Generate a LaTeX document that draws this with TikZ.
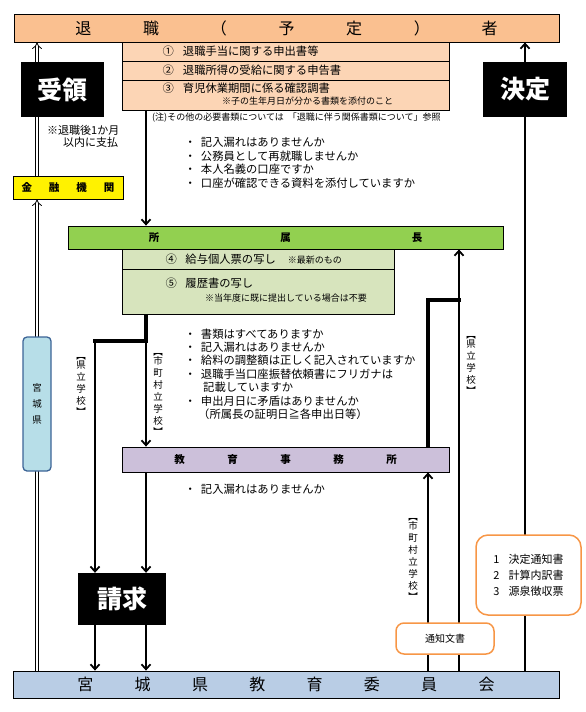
\documentclass[tikz,border=0pt]{standalone}
\usepackage{fontspec}
\setmainfont{Noto Sans CJK JP}
\usetikzlibrary{arrows.meta,backgrounds}
\definecolor{peach}{HTML}{FAC090}
\definecolor{peachlt}{HTML}{FCD5B5}
\definecolor{grass}{HTML}{92D050}
\definecolor{grasslt}{HTML}{D7E4BD}
\definecolor{lilac}{HTML}{CCC0DA}
\definecolor{skyblue}{HTML}{B9CDE5}
\definecolor{paleblue}{HTML}{B7DEE8}
\definecolor{navyline}{HTML}{3C6496}
\definecolor{orangeln}{HTML}{F79646}
\newcommand\fs[1]{\fontsize{#1}{#1}\selectfont}

\begin{document}
\begin{tikzpicture}[x=1pt, y=-1pt,
  box/.style={draw, line width=0.8pt, inner sep=0pt},
  blk/.style={fill=black, text=white, font=\fs{25}\bfseries, inner sep=0pt, minimum width=#1, minimum height=55pt},
  txt/.style={anchor=west, inner sep=0pt, font=\fs{11.3}},
  note/.style={anchor=west, inner sep=0pt, font=\fs{9}},
  list/.style={anchor=north west, inner sep=0pt, align=left, font=\fontsize{11.3}{13.4}\selectfont},
  vlab/.style={inner sep=0pt, align=center, font=\fontsize{9.5}{12}\selectfont},
  tag/.style={draw=orangeln, line width=1.5pt, fill=white, rounded corners=8pt, inner sep=0pt},
  arr/.style={line width=2pt, -{Straight Barb[length=5pt, width=9pt, line width=1.8pt]}},
  arrthin/.style={line width=1.5pt, -{Straight Barb[length=5pt, width=9pt, line width=1.8pt]}},
  heavy/.style={line width=3.3pt, line cap=rect, line join=miter},
  dbl/.style={double=white, double distance=2.6pt, line width=0.8pt, -{Implies}}]
\useasboundingbox (0,0) rectangle (586,712);

% boxes
\node[box, fill=peach, minimum width=545pt, minimum height=28pt, font=\fs{16}] (taishoku) at (286.5,28) {退\hspace{51.7pt}職\hspace{51.7pt}（\hspace{51.7pt}予\hspace{51.7pt}定\hspace{51.7pt}）\hspace{51.7pt}者};
\node[box, fill=peachlt, minimum width=327pt, minimum height=19pt] (sub1) at (285.5,51.5) {};
\node[box, fill=peachlt, minimum width=327pt, minimum height=19pt] (sub2) at (285.5,70.5) {};
\node[box, fill=peachlt, minimum width=327pt, minimum height=30pt] (sub3) at (285.5,95) {};
\node[txt] (t1) at (162.5,51.5) {①\hspace{9pt}退職手当に関する申出書等};
\node[txt] (t2) at (162.5,70.5) {②\hspace{9pt}退職所得の受給に関する申告書};
\node[txt] (t3) at (162.5,88) {③\hspace{9pt}育児休業期間に係る確認調書};
\node[note] (t3n) at (222,101) {※子の生年月日が分かる書類を添付のこと};
\node[note] (chu) at (152,118) {(注)その他の必要書類については\hspace{4pt}「退職に伴う関係書類について」参照};

\node[blk=83pt] (juryo) at (62.5,89.5) {受領};
\node[blk=84pt] (kettei) at (525,89.5) {決定};
\node[note, anchor=north west, align=left, font=\fontsize{11}{12.5}\selectfont] (shiharai) at (47,125) {※退職後1か月\\\hspace{16pt}以内に支払};
\node[box, fill=yellow, minimum width=110pt, minimum height=23pt, font=\fs{10.5}\bfseries] (kinyu) at (68,187.5) {金\hspace{17pt}融\hspace{17pt}機\hspace{17pt}関};

\node[list] (chk1) at (184.5,137.3) {・\hspace{5pt}記入漏れはありませんか\\・\hspace{5pt}公務員として再就職しませんか\\・\hspace{5pt}本人名義の口座ですか\\・\hspace{5pt}口座が確認できる資料を添付していますか};

\node[box, fill=grass, minimum width=435pt, minimum height=23pt, font=\fs{10.5}\bfseries] (shozoku) at (285.5,237.5) {所\hspace{121pt}属\hspace{121pt}長};
\node[box, fill=grasslt, minimum width=272pt, minimum height=20pt] (sub4) at (258,259) {};
\node[box, fill=grasslt, minimum width=272pt, minimum height=45pt] (sub5) at (258,291.5) {};
\node[txt] (t4) at (165.5,259) {④\hspace{8.5pt}給与個人票の写し\hspace{12pt}{\fs{9}※最新のもの}};
\node[txt] (t5) at (165.5,283) {⑤\hspace{8.5pt}履歴書の写し};
\node[note] (t5n) at (205,298) {※当年度に既に提出している場合は不要};

\node[box, draw=navyline, line width=1.3pt, fill=paleblue, rounded corners=4pt, minimum width=28pt, minimum height=134pt, align=center, font=\fontsize{9.5}{16}\selectfont] (miyagi) at (37,404) {宮\\城\\県};

\node[list] (chk2) at (184.5,328.3) {・\hspace{5pt}書類はすべてありますか\\・\hspace{5pt}記入漏れはありませんか\\・\hspace{5pt}給料の調整額は正しく記入されていますか\\・\hspace{5pt}退職手当口座振替依頼書にフリガナは\\\hspace{18.5pt}記載していますか\\・\hspace{5pt}申出月日に矛盾はありませんか\\\hspace{13.5pt}（所属長の証明日≧各申出日等）};

\node[vlab] (kenL) at (81,386) {︻\\[-3pt]県\\立\\学\\校\\[-1pt]︼};
\node[vlab] (shiL) at (158,394) {︻\\[-3pt]市\\町\\村\\立\\学\\校\\[-1pt]︼};
\node[vlab] (kenR) at (471,365.5) {︻\\[-3pt]県\\立\\学\\校\\[-1pt]︼};
\node[vlab] (shiR) at (413,559) {︻\\[-3pt]市\\町\\村\\立\\学\\校\\[-1pt]︼};

\node[box, fill=lilac, minimum width=327pt, minimum height=25pt, font=\fs{10.5}\bfseries] (jimusho) at (285.5,459.5) {教\hspace{42.5pt}育\hspace{42.5pt}事\hspace{42.5pt}務\hspace{42.5pt}所};
\node[list] (chk3) at (184.5,484.3) {・\hspace{5pt}記入漏れはありませんか};

\node[blk=88pt, minimum height=52pt] (seikyu) at (122,599) {請求};
\node[tag, minimum width=98pt, minimum height=31pt, font=\fs{10}] (tsuchi) at (445,638.5) {通知文書};
\node[tag, rounded corners=12pt, minimum width=105pt, minimum height=80pt, align=left, font=\fontsize{11}{16}\selectfont] (kekka) at (528.5,575) {1\hspace{9pt}決定通知書\\2\hspace{9pt}計算内訳書\\3\hspace{9pt}源泉徴収票};
\node[box, fill=skyblue, minimum width=546pt, minimum height=27pt, font=\fs{16}] (iinkai) at (286,684.5) {宮\hspace{41.3pt}城\hspace{41.3pt}県\hspace{41.3pt}教\hspace{41.3pt}育\hspace{41.3pt}委\hspace{41.3pt}員\hspace{41.3pt}会};

% connectors
\coordinate (xL) at (37,0);
\coordinate (xB) at (95,0);
\coordinate (xA) at (146,0);
\coordinate (xD) at (428,0);
\coordinate (xE) at (459,0);
\coordinate (xF) at (525,0);
\coordinate (yK) at (0,341);
\coordinate (yR) at (0,300);
\begin{scope}[on background layer]
\draw[dbl] (xL |- iinkai.north) -- (xL |- kinyu.south);
\draw[dbl] (xL |- kinyu.north) -- (xL |- taishoku.south);
\draw[arr] (xA |- sub3.south) -- (xA |- shozoku.north);
\draw[heavy] (xA |- sub5.south) -- (xA |- yK) -- (xB |- yK);
\draw[arr] (xB |- yK) -- (xB |- seikyu.north);
\draw[arr] (xA |- yK) -- (xA |- jimusho.north);
\draw[arr] (xA |- jimusho.south) -- (xA |- seikyu.north);
\draw[arr] (xB |- seikyu.south) -- (xB |- iinkai.north);
\draw[arr] (xA |- seikyu.south) -- (xA |- iinkai.north);
\draw[arr] (xD |- iinkai.north) -- (xD |- jimusho.south);
\draw[heavy] (xD |- jimusho.north) -- (xD |- yR) -- (xE |- yR);
\draw[arrthin] (xE |- iinkai.north) -- (xE |- shozoku.south);
\draw[arrthin] (xF |- iinkai.north) -- (xF |- taishoku.south);
\end{scope}
\end{tikzpicture}
\end{document}
